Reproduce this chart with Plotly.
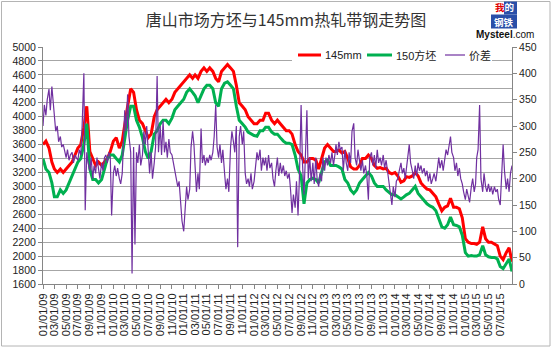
import plotly.graph_objects as go
from datetime import date

# ---------------- data ----------------
# 145mm hot-rolled strip, semi-monthly (1st / 16th), Jan 2009 ..
red_2009 = [3600,3650,3550,3350,3250,3200,3250,3200,3250,3300,3350,3450,3550,3600,3850,4150,3500,3400,3300,3350,3300,3350,3400,3500]
red_2010 = [3650,3700,3550,3650,3900,4150,4400,4350,4100,3950,3900,3800,3700,3750,4000,4100,4150,4200,4250,4200,4250,4350,4400,4450]
red_2011 = [4500,4550,4600,4550,4600,4550,4650,4700,4650,4700,4650,4550,4500,4650,4700,4750,4700,4650,4450,4200,4150,4100,4000,3950]
red_2012 = [3900,3900,3950,3950,4050,4050,3950,3900,3950,3900,3850,3800,3800,3750,3600,3500,3450,3350,3350,3400,3400,3380,3250,3400]
red_2013 = [3550,3600,3550,3500,3500,3520,3480,3500,3400,3280,3250,3250,3300,3400,3400,3450,3400,3300,3260,3270,3250,3260,3200,3180]
red_2014 = [3200,3150,3060,3080,3140,3130,3150,3200,3150,3050,3000,2960,2950,2900,2850,2750,2650,2700,2720,2830,2700,2700,2680,2550]
red_2015 = [2250,2200,2180,2180,2170,2200,2420,2250,2200,2200,2180,2150,2000,1950,2050,2120,1920]

# 150 billet, semi-monthly
green_2009 = [3400,3250,3200,3050,2850,2850,2950,2900,2950,3050,3150,3250,3350,3400,3600,3900,3250,3100,3100,3050,3100,3250,3400,3450]
green_2010 = [3450,3400,3350,3450,3700,3950,4150,4150,3950,3850,3700,3500,3400,3500,3750,3800,3900,3950,3950,3900,3980,4100,4150,4200]
green_2011 = [4250,4350,4400,4350,4300,4200,4300,4400,4450,4450,4400,4200,4150,4400,4480,4500,4450,4400,4150,3950,3900,3850,3780,3750]
green_2012 = [3730,3720,3800,3800,3850,3850,3780,3750,3750,3700,3650,3620,3620,3600,3450,3250,3150,2750,3050,3100,3120,3100,3050,3200]
green_2013 = [3350,3380,3300,3300,3300,3280,3250,3100,3050,2950,2900,2950,3050,3100,3150,3200,3150,3050,3000,3000,3000,2950,2920,2880]
green_2014 = [2880,2850,2820,2850,2880,2900,2950,3000,2900,2850,2800,2750,2720,2700,2650,2550,2420,2400,2450,2560,2450,2440,2420,2300]
green_2015 = [2050,2000,2010,2000,2000,2020,2150,2020,1990,1980,1980,1960,1850,1820,1900,1960,1780]

# price spread (right axis), 4 readings per month (1st / 8th / 16th / 23rd)
spread_2009 = [300,340,320,350, 370,330,375,340, 320,290,300,270, 280,260,265,250, 240,255,235,245, 250,230,245,240,
               235,255,245,300, 400,140,250,230, 215,240,200,225, 210,240,220,200, 230,215,240,245, 230,250,240,130]
spread_2010 = [210,225,205,220, 200,190,210,260, 330,290,360,280, 250,20,260,75, 250,230,265,225, 245,290,265,300,
               260,210,250,200, 230,260,395,250, 300,245,310,250, 270,240,275,250, 245,230,210,200, 185,195,160,120]
spread_2011 = [100,150,185,160, 180,260,290,265, 230,175,210,180, 295,230,245,225, 240,230,245,235, 250,280,340,260,
               240,265,230,255, 210,180,200,175, 260,290,270,250, 300,70,280,300, 265,290,210,190, 200,185,210,180]
spread_2012 = [195,220,250,235, 255,215,240,225, 240,215,245,220, 230,200,185,215, 240,205,230,210, 225,205,215,200,
               210,180,135,170, 145,195,130,200, 340,230,170,240, 330,200,240,195, 230,190,240,200, 185,210,195,240]
spread_2013 = [215,240,225,245, 230,250,225,245, 265,245,270,255, 260,215,255,230, 215,250,230,290, 305,240,225,255,
               230,215,235,210, 225,205,160,240, 250,225,245,220, 255,230,240,225, 245,220,235,215, 190,170,150,185]
spread_2014 = [165,195,200,215, 230,210,220,200, 215,240,265,230, 215,200,225,205, 230,215,225,210, 220,205,215,195,
               210,190,200,210, 195,215,240,220, 235,215,240,255, 245,265,280,250, 240,215,230,205, 220,200,190,175]
spread_2015 = [160,180,165,155, 185,200,175,190, 240,255,340,200, 175,210,185,175, 190,175,185,170, 185,175,180,160,
               150,205,265,215, 180,200,175,210, 225]

names = ["145mm", "150方坯", "价差"]
title_text = "唐山市场方坯与145mm热轧带钢走势图"
first_date = date(2009, 1, 1)
last_date = date(2015, 8, 31)

red = red_2009 + red_2010 + red_2011 + red_2012 + red_2013 + red_2014 + red_2015
green = green_2009 + green_2010 + green_2011 + green_2012 + green_2013 + green_2014 + green_2015
spread = spread_2009 + spread_2010 + spread_2011 + spread_2012 + spread_2013 + spread_2014 + spread_2015


def make_dates(days, n):
    out = []
    for y in range(2009, 2016):
        for m in range(1, 13):
            for d in days:
                out.append(date(y, m, d))
    out = out[:n]
    # the series ends on the last trading day shown on the axis
    out[-1] = min(out[-1], last_date)
    return out


semi_dates = make_dates((1, 16), len(red))
week_dates = make_dates((1, 8, 16, 23), len(spread))

RED = "#ff0000"
GREEN = "#00b050"
PURPLE = "#7030a0"
AX = "#868686"

fig = go.Figure()
fig.add_trace(go.Scatter(x=semi_dates, y=red, mode="lines", name=names[0],
                         line=dict(color=RED, width=3), showlegend=False))
fig.add_trace(go.Scatter(x=semi_dates[:len(green)], y=green, mode="lines", name=names[1],
                         line=dict(color=GREEN, width=3), showlegend=False))
fig.add_trace(go.Scatter(x=week_dates, y=spread, mode="lines", name=names[2], yaxis="y2",
                         line=dict(color=PURPLE, width=1.2), showlegend=False))

# pixel helpers for decorations (plot area 43..512 x 47..284)
L, R, T, B = 43, 512, 47, 284
def px(x):
    return (x - L) / (R - L)
def py(y):
    return (B - y) / (B - T)

shapes = []
annotations = []
# outer chart border
shapes.append(dict(type="rect", xref="paper", yref="paper", x0=px(1.5), x1=px(550), y0=py(1.5), y1=py(346),
                   line=dict(color="#b4b4b4", width=1), fillcolor="rgba(0,0,0,0)", layer="below"))
# legend background
shapes.append(dict(type="rect", xref="paper", yref="paper", x0=px(292), x1=px(492), y0=py(49), y1=py(68),
                   line=dict(width=0), fillcolor="white", layer="above"))
leg = [(298, 321, 323, RED, 3, names[0]), (367, 392, 394, GREEN, 3, names[1]), (445, 465, 467, PURPLE, 1.2, names[2])]
for x0, x1, xt, col, w, nm in leg:
    shapes.append(dict(type="line", xref="paper", yref="paper", x0=px(x0), x1=px(x1), y0=py(55), y1=py(55),
                       line=dict(color=col, width=w), layer="above"))
    annotations.append(dict(xref="paper", yref="paper", x=px(xt), y=py(55), xanchor="left", yanchor="middle",
                            text=nm, showarrow=False,
                            font=dict(size=11, color="#222", family="Liberation Sans, Noto Sans CJK SC")))

# logo
shapes.append(dict(type="rect", xref="paper", yref="paper", x0=px(504), x1=px(517), y0=py(1.5), y1=py(14.5),
                   line=dict(width=0), fillcolor="#2a4fa8", layer="above"))
shapes.append(dict(type="rect", xref="paper", yref="paper", x0=px(491), x1=px(517), y0=py(14.5), y1=py(28.5),
                   line=dict(width=0), fillcolor="#2a4fa8", layer="above"))
annotations.append(dict(xref="paper", yref="paper", x=px(504), y=py(7.5), xanchor="center", yanchor="middle",
                        text="<b><span style='color:#e00000'>我</span>的</b>", showarrow=False, borderpad=0,
                        font=dict(size=9.5, color="white", family="Noto Sans CJK SC")))
annotations.append(dict(xref="paper", yref="paper", x=px(504), y=py(21.5), xanchor="center", yanchor="middle",
                        text="<b>钢铁</b>", showarrow=False, borderpad=0,
                        font=dict(size=9.5, color="white", family="Noto Sans CJK SC")))
annotations.append(dict(xref="paper", yref="paper", x=px(505), y=py(35), xanchor="center", yanchor="middle",
                        text="<b>Mysteel</b>.com", showarrow=False, borderpad=0,
                        font=dict(size=10, color="#111", family="Liberation Sans")))

tickfont = dict(size=10.5, color="#222", family="Liberation Sans")
fig.update_layout(
    width=554, height=351,
    margin=dict(l=L, r=554 - R, t=T, b=351 - B),
    paper_bgcolor="white", plot_bgcolor="white",
    title=dict(text=title_text, xref="container", yref="container", x=286 / 554, xanchor="center",
               y=1 - 20 / 351, yanchor="middle",
               font=dict(size=16, color="#333", family="Noto Sans CJK SC")),
    xaxis=dict(type="date", range=[first_date.isoformat(), last_date.isoformat()], tick0="2009-01-01", dtick="M2",
               tickformat="%m/%d/%y", tickangle=-90, ticks="outside", ticklen=4, tickcolor=AX,
               showline=True, linecolor=AX, showgrid=False, zeroline=False,
               tickfont=dict(size=11, color="#222", family="Liberation Sans")),
    yaxis=dict(range=[1600, 5000], dtick=200, tick0=1600, showgrid=True, gridcolor="#a6a6a6", gridwidth=1,
               showline=True, linecolor=AX, ticks="outside", ticklen=4, tickcolor=AX, zeroline=False,
               tickfont=tickfont),
    yaxis2=dict(range=[0, 450], dtick=50, tick0=0, overlaying="y", side="right", showgrid=False,
                showline=True, linecolor=AX, ticks="outside", ticklen=4, tickcolor=AX, zeroline=False,
                tickfont=tickfont),
    shapes=shapes, annotations=annotations, showlegend=False,
)

fig.write_html("out.html")
